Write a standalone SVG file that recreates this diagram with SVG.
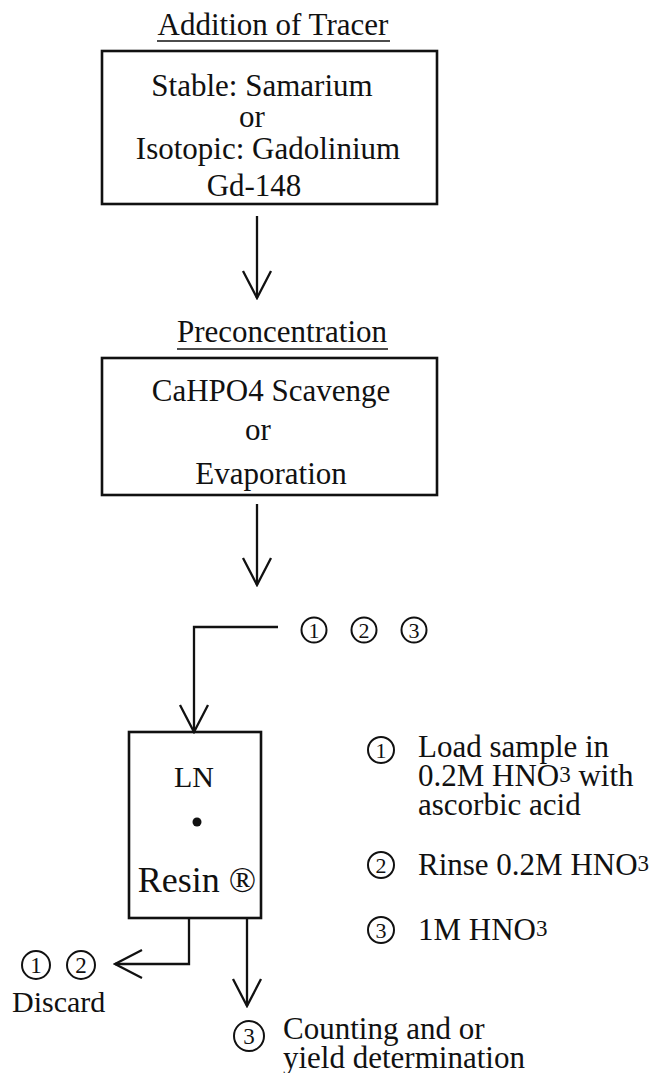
<svg xmlns="http://www.w3.org/2000/svg" width="651" height="1073" viewBox="0 0 651 1073">
<style>
  .t { font-family: "Liberation Serif", "Times New Roman", serif; fill: #111; }
  .c { text-anchor: middle; }
  .box { fill: #fff; stroke: #111; stroke-width: 2.6; }
  .ln { fill: none; stroke: #111; stroke-width: 2.3; }
  .circ { fill: none; stroke: #111; stroke-width: 2; }
  .num { font-family: "Liberation Serif", "Times New Roman", serif; text-anchor: middle; fill: #111; }
  .sub { font-size: 23px; }
</style>
<defs>
  <marker id="v" viewBox="-30 -16 32 32" refX="0" refY="0" markerWidth="32" markerHeight="32" markerUnits="userSpaceOnUse" orient="auto">
    <path d="M-27,-14 L0,0 L-27,14" fill="none" stroke="#111" stroke-width="2.3"/>
  </marker>
</defs>
<rect width="651" height="1073" fill="#fff"/>

<g id="title-tracer">
  <text class="t c" x="273" y="35" font-size="31">Addition of Tracer</text>
  <line x1="157" y1="41" x2="390" y2="41" stroke="#111" stroke-width="1.5"/>
</g>
<g id="node-tracer">
  <rect class="box" x="102" y="51" width="335" height="153"/>
  <text class="t c" x="262" y="96" font-size="31">Stable: Samarium</text>
  <text class="t c" x="252" y="127" font-size="31">or</text>
  <text class="t c" x="268" y="159" font-size="31">Isotopic: Gadolinium</text>
  <text class="t c" x="254" y="196" font-size="31">Gd-148</text>
</g>

<g id="title-preconc">
  <text class="t c" x="282" y="342" font-size="31">Preconcentration</text>
  <line x1="177" y1="349" x2="388" y2="349" stroke="#111" stroke-width="1.5"/>
</g>
<g id="node-preconc">
  <rect class="box" x="102" y="358" width="335" height="137"/>
  <text class="t c" x="271" y="401" font-size="31">CaHPO4 Scavenge</text>
  <text class="t c" x="258" y="440" font-size="31">or</text>
  <text class="t c" x="271" y="484" font-size="31">Evaporation</text>
</g>

<g id="node-loadsteps">
  <circle class="circ" cx="314" cy="630" r="12.5"/><text class="num" x="314" y="638" font-size="22">1</text>
  <circle class="circ" cx="364" cy="630" r="12.5"/><text class="num" x="364" y="638" font-size="22">2</text>
  <circle class="circ" cx="414" cy="630" r="12.5"/><text class="num" x="414" y="638" font-size="22">3</text>
</g>

<g id="node-resin">
  <rect class="box" x="129" y="732" width="132" height="186"/>
  <text class="t c" x="194" y="787" font-size="30">LN</text>
  <circle cx="197" cy="822" r="4.5" fill="#111"/>
  <text class="t c" x="197" y="892" font-size="36">Resin ®</text>
</g>

<g id="node-legend">
  <circle class="circ" cx="381" cy="750" r="13"/><text class="num" x="381" y="758" font-size="22">1</text>
  <text class="t" x="418" y="757" font-size="31">Load sample in</text>
  <text class="t" x="418" y="786" font-size="31">0.2M HNO<tspan class="sub" dy="-4">3</tspan><tspan dy="4"> with</tspan></text>
  <text class="t" x="418" y="815" font-size="31">ascorbic acid</text>
  <circle class="circ" cx="381" cy="865" r="13"/><text class="num" x="381" y="873" font-size="22">2</text>
  <text class="t" x="418" y="875" font-size="31">Rinse 0.2M HNO<tspan class="sub" dy="-4">3</tspan></text>
  <circle class="circ" cx="381" cy="930" r="13"/><text class="num" x="381" y="938" font-size="22">3</text>
  <text class="t" x="418" y="940" font-size="31">1M HNO<tspan class="sub" dy="-4">3</tspan></text>
</g>

<g id="node-discard">
  <circle class="circ" cx="36" cy="965" r="14"/><text class="num" x="36" y="973" font-size="23">1</text>
  <circle class="circ" cx="81" cy="965" r="14"/><text class="num" x="81" y="973" font-size="23">2</text>
  <text class="t" x="12" y="1012" font-size="30">Discard</text>
</g>

<g id="node-counting">
  <circle class="circ" cx="249" cy="1036" r="15"/><text class="num" x="249" y="1044" font-size="23">3</text>
  <text class="t" x="283" y="1039" font-size="31">Counting and or</text>
  <text class="t" x="283" y="1068" font-size="31">yield determination</text>
</g>

<g id="connectors">
  <line class="ln" x1="257" y1="216" x2="257" y2="298" marker-end="url(#v)"/>
  <line class="ln" x1="257" y1="504" x2="257" y2="585" marker-end="url(#v)"/>
  <polyline class="ln" points="278,627 194,627 194,732" marker-end="url(#v)"/>
  <polyline class="ln" points="189,918 189,964 115,964" marker-end="url(#v)"/>
  <line class="ln" x1="247" y1="918" x2="247" y2="1006" marker-end="url(#v)"/>
</g>
</svg>
